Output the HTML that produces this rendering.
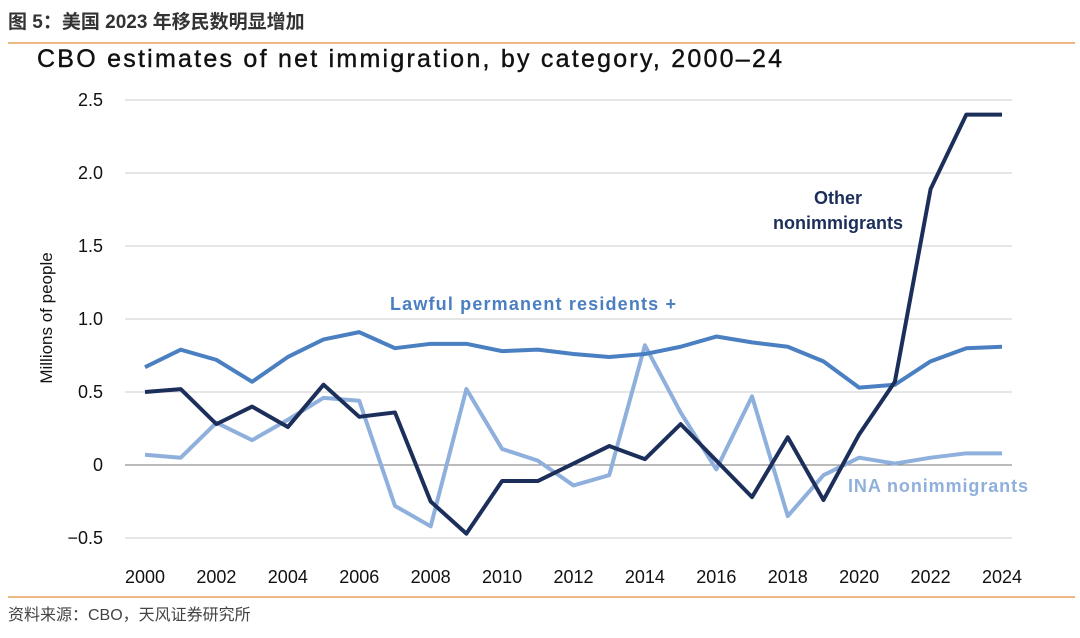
<!DOCTYPE html>
<html><head><meta charset="utf-8"><style>
body{margin:0;background:#fff;width:1080px;height:633px;overflow:hidden;font-family:"Liberation Sans","Noto Sans CJK SC",sans-serif}
</style></head><body>
<svg id="c" width="1080" height="633" xmlns="http://www.w3.org/2000/svg">
<text x="8" y="28" font-size="19" font-weight="bold" fill="#333" font-family="Liberation Sans,Noto Sans CJK SC,sans-serif">图 5：美国 2023 年移民数明显增加</text>
<line x1="8" y1="43" x2="1075" y2="43" stroke="#e8a15c" stroke-width="1.5"/>
<text x="37" y="67" font-size="25" fill="#111" stroke="#111" stroke-width="0.4" textLength="745">CBO estimates of net immigration, by category, 2000–24</text>
<text transform="translate(52,318) rotate(-90)" text-anchor="middle" font-size="17" fill="#111">Millions of people</text>
<g id="grid"></g><g id="series"></g>
<text x="838" y="204" font-size="18" font-weight="bold" fill="#1c2f5a" text-anchor="middle">Other</text>
<text x="838" y="229" font-size="18" font-weight="bold" fill="#1c2f5a" text-anchor="middle">nonimmigrants</text>
<text x="390" y="310" font-size="18" font-weight="bold" fill="#4a7fc1" textLength="286">Lawful permanent residents +</text>
<text x="848" y="492" font-size="18" font-weight="bold" fill="#8fb0dc" textLength="180">INA nonimmigrants</text>
<line x1="8" y1="597" x2="1075" y2="597" stroke="#e8a15c" stroke-width="1.5"/>
<text x="8" y="620" font-size="16" fill="#444">资料来源：CBO，天风证券研究所</text>
</svg>
<script>
const years=[2000,2001,2002,2003,2004,2005,2006,2007,2008,2009,2010,2011,2012,2013,2014,2015,2016,2017,2018,2019,2020,2021,2022,2023,2024];
const lawful=[0.67,0.79,0.72,0.57,0.74,0.86,0.91,0.80,0.83,0.83,0.78,0.79,0.76,0.74,0.76,0.81,0.88,0.84,0.81,0.71,0.53,0.55,0.71,0.80,0.81];
const ina=[0.07,0.05,0.29,0.17,0.31,0.46,0.44,-0.28,-0.42,0.52,0.11,0.03,-0.14,-0.07,0.82,0.36,-0.03,0.47,-0.35,-0.07,0.05,0.01,0.05,0.08,0.08];
const other=[0.50,0.52,0.28,0.40,0.26,0.55,0.33,0.36,-0.25,-0.47,-0.11,-0.11,0.01,0.13,0.04,0.28,0.03,-0.22,0.19,-0.24,0.21,0.57,1.89,2.40,2.40];
const yTicks=[-0.5,0,0.5,1.0,1.5,2.0,2.5];
const yLabels=["−0.5","0","0.5","1.0","1.5","2.0","2.5"];
const xTicks=[2000,2002,2004,2006,2008,2010,2012,2014,2016,2018,2020,2022,2024];
const NS="http://www.w3.org/2000/svg";
const x=v=>145+(v-2000)*(1002-145)/24;
const y=v=>465-v*146;
const grid=document.getElementById('grid'),ser=document.getElementById('series');
function mk(t,a,p){const e=document.createElementNS(NS,t);for(const k in a)e.setAttribute(k,a[k]);p.appendChild(e);return e;}
yTicks.forEach((t,i)=>{
 const l=mk('line',{x1:125,x2:1012,y1:y(t),y2:y(t),stroke:t===0?'#777':'#ccc','stroke-width':1},grid);
 
 
 const tx=mk('text',{x:103,y:y(t)+6,'text-anchor':'end','font-size':18,fill:'#111'},grid);tx.textContent=yLabels[i];
 
 
});
xTicks.forEach(t=>{
 const tx=mk('text',{x:x(t),y:583,'text-anchor':'middle','font-size':18,fill:'#111'},grid);tx.textContent=t;
 
 
});
[[ina,'#8fb0dc','series-ina'],[lawful,'#4a7fc1','series-lawful'],[other,'#1c2f5a','series-other']].forEach(([d,c,n])=>{
 const p=mk('polyline',{points:d.map((v,i)=>x(years[i])+','+y(v)).join(' '),fill:'none',stroke:c,'stroke-width':4,'stroke-linejoin':'round'},ser);
 
 
});
</script>
</body></html>
